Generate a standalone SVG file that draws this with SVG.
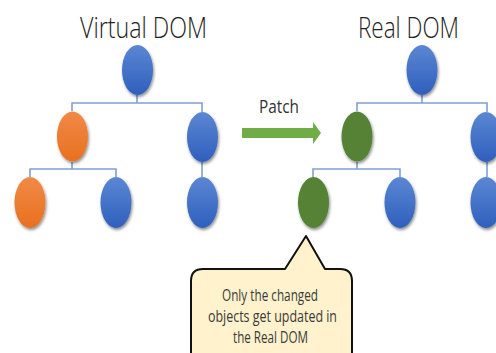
<svg xmlns="http://www.w3.org/2000/svg" width="496" height="353" viewBox="0 0 496 353">
<defs>
<linearGradient id="gBlue" x1="0" y1="0" x2="0" y2="1">
<stop offset="0" stop-color="#5b87d3"/><stop offset="1" stop-color="#2f5fbd"/>
</linearGradient>
<linearGradient id="gOrange" x1="0" y1="0" x2="0" y2="1">
<stop offset="0" stop-color="#f08a47"/><stop offset="1" stop-color="#e8701f"/>
</linearGradient>
<filter id="sh" x="-30%" y="-30%" width="160%" height="160%">
<feDropShadow dx="1" dy="2" stdDeviation="1.5" flood-color="#000" flood-opacity="0.45"/>
</filter>
<style>
.title{font-family:"Open Sans","Liberation Sans",sans-serif;font-size:29px;fill:#222;text-anchor:middle;font-weight:300}
.lbl{font-family:"Open Sans","Liberation Sans",sans-serif;font-size:19px;fill:#333}
.note{font-family:"Open Sans","Liberation Sans",sans-serif;font-size:15.5px;fill:#3a3a3a;text-anchor:middle}
.blue{fill:url(#gBlue);filter:url(#sh)}
.orange{fill:url(#gOrange);filter:url(#sh)}
.green{fill:#548235;filter:url(#sh)}
.conn{fill:none;stroke:#7f9fd6;stroke-width:1.6}
</style>
</defs>
<rect width="496" height="353" fill="#fff"/>
<text class="title" x="143.5" y="38" textLength="127" lengthAdjust="spacingAndGlyphs">Virtual DOM</text>
<text class="title" x="408.5" y="38" textLength="101" lengthAdjust="spacingAndGlyphs">Real DOM</text>
<g id="connectors">
<path class="conn" d="M137,95 V103 M72,111 V103 H202 V112 M72,162 V169 M30,177 V169 H116 V177 M202,162 V177"/>
<path class="conn" d="M422,95 V103 M357,111 V103 H487 V112 M357,162 V169 M313,177 V169 H400 V177 M487,162 V177"/>
</g>
<g id="v-root"><ellipse class="blue" cx="137.5" cy="70" rx="15.5" ry="25"/></g>
<g id="v-left"><ellipse class="orange" cx="72.5" cy="136.5" rx="15.5" ry="25"/></g>
<g id="v-right"><ellipse class="blue" cx="202.5" cy="137" rx="15.5" ry="25"/></g>
<g id="v-ll"><ellipse class="orange" cx="30" cy="202.5" rx="15.5" ry="25.5"/></g>
<g id="v-lr"><ellipse class="blue" cx="116" cy="202.5" rx="15.5" ry="25.5"/></g>
<g id="v-rl"><ellipse class="blue" cx="202.5" cy="202.5" rx="15.5" ry="25.5"/></g>
<g id="r-root"><ellipse class="blue" cx="422" cy="70" rx="15.5" ry="25"/></g>
<g id="r-left"><ellipse class="green" cx="357" cy="136.5" rx="15.5" ry="25"/></g>
<g id="r-right"><ellipse class="blue" cx="486" cy="137" rx="15.5" ry="25"/></g>
<g id="r-ll"><ellipse class="green" cx="313.5" cy="202.5" rx="15.5" ry="25.5"/></g>
<g id="r-lr"><ellipse class="blue" cx="400" cy="202.5" rx="15.5" ry="25.5"/></g>
<g id="r-rl"><ellipse class="blue" cx="486" cy="202.5" rx="15.5" ry="25.5"/></g>
<g id="patch">
<text class="lbl" x="259" y="113" textLength="40" lengthAdjust="spacingAndGlyphs">Patch</text>
<path d="M242,128 H313 V122 L321,133 L313,144 V138 H242 Z" fill="#70ad47"/>
</g>
<g id="callout">
<path d="M203,269 H285 L306,236 L325,269 H340 Q352,269 352,281 V360 H191 V281 Q191,269 203,269 Z" fill="#fff2cc" stroke="#111" stroke-width="2" stroke-linejoin="round"/>
<text class="note" x="270" y="301" textLength="96" lengthAdjust="spacingAndGlyphs">Only the changed</text>
<text class="note" x="272.5" y="322" textLength="129" lengthAdjust="spacingAndGlyphs">objects get updated in</text>
<text class="note" x="270.5" y="343" textLength="75" lengthAdjust="spacingAndGlyphs">the Real DOM</text>
</g>
</svg>
